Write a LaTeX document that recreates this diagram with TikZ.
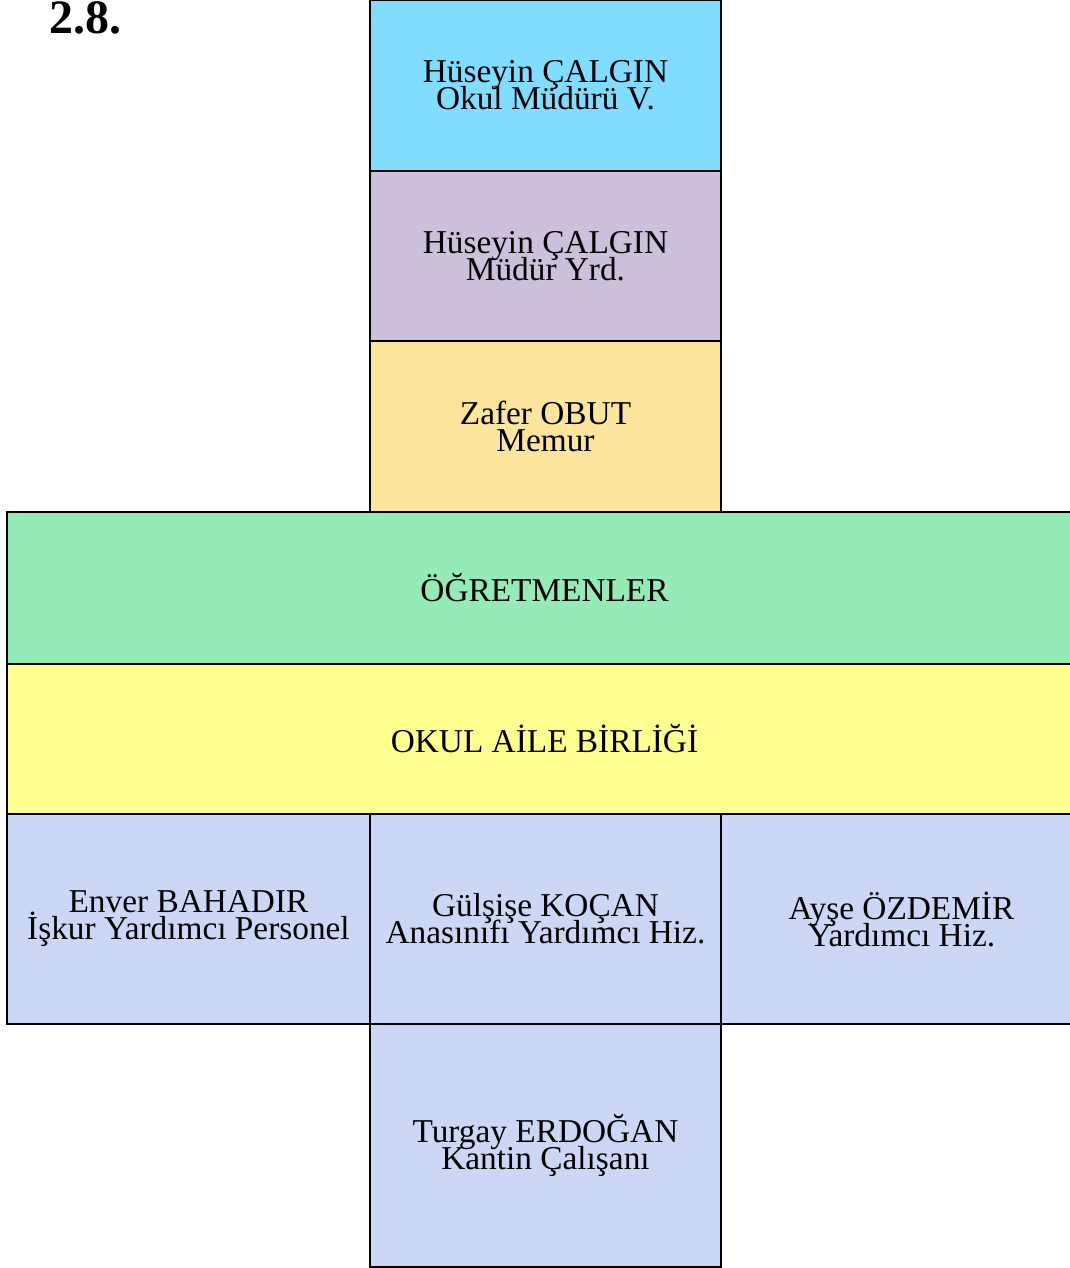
\documentclass[tikz,border=0pt]{standalone}
\usepackage{fontspec}
\setmainfont{Liberation Serif}
\definecolor{mavi}{RGB}{128,221,255}
\definecolor{lila}{RGB}{204,192,218}
\definecolor{seftali}{RGB}{253,229,155}
\definecolor{yesil}{RGB}{148,235,182}
\definecolor{sari}{RGB}{255,255,143}
\definecolor{lavanta}{RGB}{204,214,245}
\tikzset{kutu/.style n args={3}{draw, line width=2pt, fill=#1,
    minimum width=#2*0.75pt, minimum height=#3*0.75pt,
    inner sep=0pt, outer sep=0pt, anchor=north west, align=center,
    font={\fontsize{25}{20.25}\selectfont\lineskiplimit=-100pt\relax}}}

\begin{document}
\begin{tikzpicture}[x=0.75pt, y=-0.75pt]
  \useasboundingbox (0,0) rectangle (1070,1268);
  \clip (0,0) rectangle (1070,1268);
  \node [anchor=base west, font=\bfseries\fontsize{36}{36}\selectfont] (baslik) at (45,33) {2.8.};
  % idari kadro
  \node [kutu={mavi}{351}{171}] (mudur) at (370,0) {Hüseyin ÇALGIN\\Okul Müdürü V.};
  \node [kutu={lila}{351}{170}] (yrd) at (370,171) {Hüseyin ÇALGIN\\Müdür Yrd.};
  \node [kutu={seftali}{351}{171}] (memur) at (370,341) {Zafer OBUT\\Memur};
  % genis satirlar
  \node [kutu={yesil}{1075}{152}] (ogretmen) at (7,512) {ÖĞRETMENLER};
  \node [kutu={sari}{1075}{150}] (aile) at (7,664) {OKUL AİLE BİRLİĞİ};
  % yardimci personel
  \node [kutu={lavanta}{363}{210}] (enver) at (7,814) {Enver BAHADIR\\İşkur Yardımcı Personel};
  \node [kutu={lavanta}{351}{210}] (gulsise) at (370,814) {Gülşişe KOÇAN\\Anasınıfı Yardımcı Hiz.};
  \node [kutu={lavanta}{361}{210}] (ayse) at (721,814) {Ayşe ÖZDEMİR\\Yardımcı Hiz.};
  \node [kutu={lavanta}{351}{243}] (turgay) at (370,1024) {Turgay ERDOĞAN\\Kantin Çalışanı};
\end{tikzpicture}
\end{document}
